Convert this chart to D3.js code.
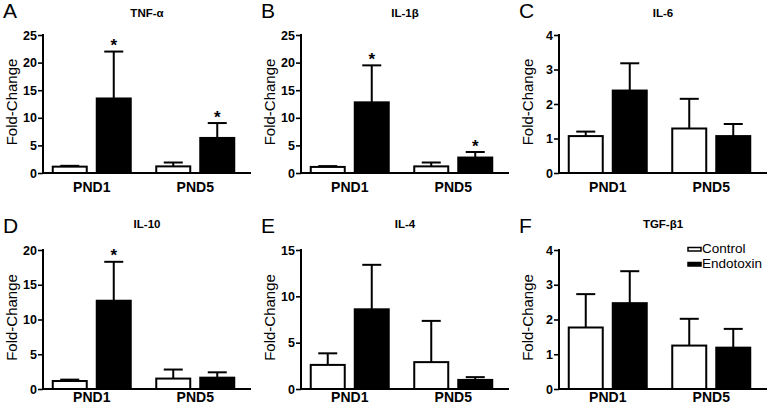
<!DOCTYPE html>
<html>
<head>
<meta charset="utf-8">
<script src="https://cdn.jsdelivr.net/npm/d3@7/dist/d3.min.js"></script>
<style>
  html, body { margin: 0; padding: 0; background: #fff; }
  svg { display: block; font-family: "Liberation Sans", Arial, Helvetica, sans-serif; }
</style>
</head>
<body>
<svg id="chart" width="774" height="409"></svg>
<script>
// ---- data ----
const panelLetters = ["A", "B", "C", "D", "E", "F"];
const panelTitles = ["TNF-α", "IL-1β", "IL-6", "IL-10", "IL-4", "TGF-β1"];
const groups = ["PND1", "PND5"];
const series = ["Control", "Endotoxin"];
const yMax = [25, 25, 4, 20, 15, 4];
const yTickStep = [5, 5, 1, 5, 5, 1];
const controlMean = [[1.15, 1.2], [1.1, 1.2], [1.07, 1.29], [1.15, 1.5], [2.6, 2.9], [1.77, 1.25]];
const controlErr  = [[0.15, 0.7], [0.15, 0.7], [0.13, 0.86], [0.2, 1.3], [1.25, 4.45], [0.96, 0.77]];
const endoMean    = [[13.5, 6.35], [12.8, 2.8], [2.39, 1.07], [12.7, 1.63], [8.6, 0.98], [2.47, 1.19]];
const endoErr     = [[8.5, 2.7], [6.7, 1.0], [0.79, 0.35], [5.6, 0.77], [4.8, 0.3], [0.92, 0.54]];
const endoSig     = [[true, true], [true, true], [false, false], [true, false], [false, false], [false, false]];

// ---- layout ----
const svg = d3.select("#chart");
const colOffsets = [0, 258, 516];
const rows = [
  { letterY: 18, titleY: 17, top: 35, bottom: 173, labelY: 192 },
  { letterY: 233, titleY: 228, top: 250, bottom: 389, labelY: 402 }
];
const axisX = 43, axisRight = 251;

panelLetters.forEach((letter, i) => {
  const row = rows[Math.floor(i / 3)];
  const ox = colOffsets[i % 3];
  const g = svg.append("g").attr("transform", `translate(${ox},0)`);

  const y = d3.scaleLinear().domain([0, yMax[i]]).range([row.bottom, row.top]);
  const x0 = d3.scaleBand().domain(groups).range([40, 247]).paddingInner(0).paddingOuter(0);
  const x1 = d3.scaleBand().domain(series).range([0, x0.bandwidth()]).paddingInner(0.182).paddingOuter(0.267);

  // panel letter
  g.append("text").attr("x", 3).attr("y", row.letterY)
    .attr("font-size", 21).attr("fill", "#000").text(letter);
  // title
  g.append("text").attr("x", 147).attr("y", row.titleY)
    .attr("text-anchor", "middle").attr("font-size", 11.5).attr("font-weight", "bold").text(panelTitles[i]);
  // y label
  g.append("text")
    .attr("transform", `translate(16.5,${(row.top + row.bottom) / 2 - 2}) rotate(-90)`)
    .attr("text-anchor", "middle").attr("font-size", 15).text("Fold-Change");

  // data rows
  const data = [];
  groups.forEach((grp, gi) => {
    data.push({ group: grp, series: "Control", v: controlMean[i][gi], e: controlErr[i][gi], sig: false });
    data.push({ group: grp, series: "Endotoxin", v: endoMean[i][gi], e: endoErr[i][gi], sig: endoSig[i][gi] });
  });

  const bx = d => x0(d.group) + x1(d.series);
  const bw = x1.bandwidth();

  // error bars (upper only)
  data.forEach(d => {
    const cx = bx(d) + bw / 2;
    g.append("line").attr("x1", cx).attr("x2", cx).attr("y1", y(d.v)).attr("y2", y(d.v + d.e))
      .attr("stroke", "#000").attr("stroke-width", 2);
    g.append("line").attr("x1", cx - 9.5).attr("x2", cx + 9.5).attr("y1", y(d.v + d.e)).attr("y2", y(d.v + d.e))
      .attr("stroke", "#000").attr("stroke-width", 2);
    if (d.sig) {
      g.append("text").attr("x", cx).attr("y", y(d.v + d.e) - 0.5)
        .attr("text-anchor", "middle").attr("font-size", 17).attr("font-weight", "bold").text("*");
    }
  });

  // bars
  g.selectAll("rect.bar").data(data).enter().append("rect")
    .attr("class", "bar")
    .attr("x", d => bx(d) + 1)
    .attr("width", bw - 2)
    .attr("y", d => y(d.v))
    .attr("height", d => y(0) - y(d.v))
    .attr("fill", d => d.series === "Control" ? "#fff" : "#000")
    .attr("stroke", "#000").attr("stroke-width", 2);

  // y axis
  const yAxis = d3.axisLeft(y)
    .tickValues(d3.range(0, yMax[i] + 0.001, yTickStep[i]))
    .tickFormat(d3.format("d"))
    .tickSize(5).tickPadding(1);
  const ya = g.append("g").attr("transform", `translate(${axisX},0)`).call(yAxis);
  ya.select(".domain").remove();
  ya.selectAll(".tick line").attr("stroke", "#000").attr("stroke-width", 1.6);
  ya.selectAll(".tick text").attr("font-size", 12.5).attr("font-weight", "bold").attr("fill", "#000")
    .attr("font-family", "Liberation Sans, Arial, sans-serif");
  g.append("line").attr("x1", axisX).attr("x2", axisX).attr("y1", row.top - 1).attr("y2", row.bottom + 1)
    .attr("stroke", "#000").attr("stroke-width", 2);

  // x axis
  g.append("line").attr("x1", axisX - 1).attr("x2", axisRight).attr("y1", row.bottom).attr("y2", row.bottom)
    .attr("stroke", "#000").attr("stroke-width", 2);
  const xAxis = d3.axisBottom(x0).tickSize(0).tickPadding(0);
  const xa = g.append("g").attr("transform", `translate(0,0)`).call(xAxis);
  xa.select(".domain").remove();
  xa.selectAll(".tick text").attr("y", row.labelY).attr("dy", null)
    .attr("font-size", 14).attr("font-weight", "bold").attr("fill", "#000")
    .attr("font-family", "Liberation Sans, Arial, sans-serif");

  // legend in last panel
  if (i === 5) {
    const leg = g.append("g");
    series.forEach((s, si) => {
      const ly = 253 + si * 15;
      leg.append("rect").attr("x", 172).attr("y", ly - 5.5).attr("width", 13).attr("height", 3.5)
        .attr("fill", si === 0 ? "#fff" : "#000").attr("stroke", "#000").attr("stroke-width", 1.5);
      leg.append("text").attr("x", 186).attr("y", ly).attr("font-size", 13.5).text(s);
    });
  }
});
</script>
</body>
</html>
